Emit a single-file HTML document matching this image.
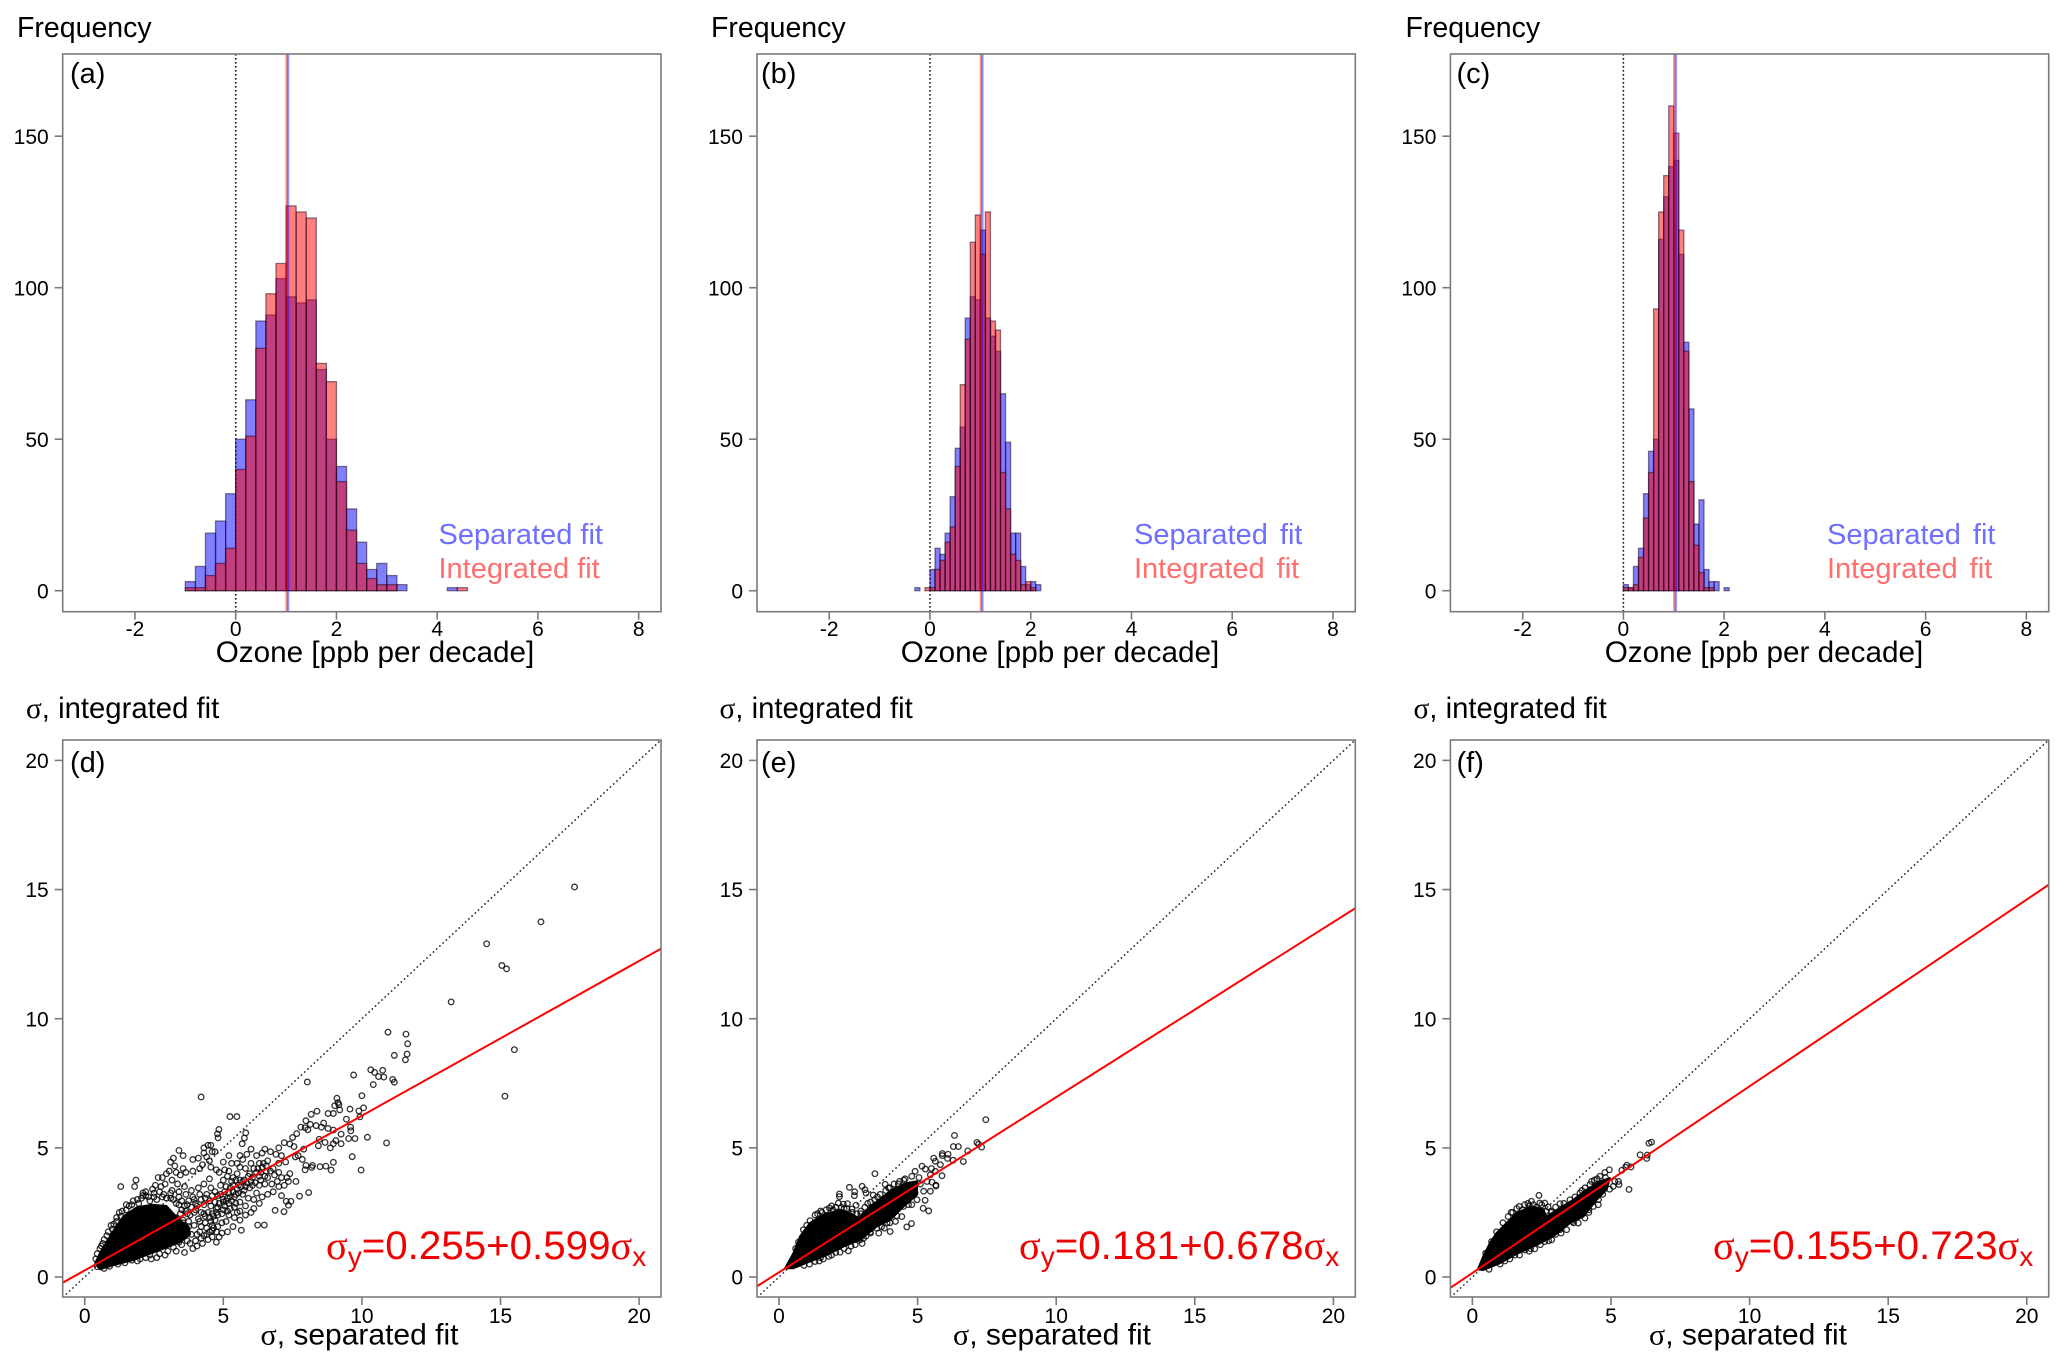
<!DOCTYPE html>
<html lang="en">
<head>
<meta charset="utf-8">
<title>Ozone trend histograms and sigma scatter plots</title>
<style>
html,body{margin:0;padding:0;background:#fff}
svg{display:block}
text{font-family:"Liberation Sans",sans-serif;fill:#000}
.title{font-size:28.5px}
.stitle{font-size:29.3px}
.xtitle{font-size:29.7px;text-anchor:middle}
.sxtitle{font-size:30px;text-anchor:middle}
.tag{font-size:29px}
.sep{font-size:29px;fill:#6f6fff}
.int{font-size:29px;fill:#ff6f6f}
.eq{font-size:40.3px;fill:#f00000}
.sig{font-family:"Liberation Serif",serif}
.tick{font-size:21px}
</style>
</head>
<body>
<svg id="figure" width="2067" height="1368" viewBox="0 0 2067 1368" xmlns="http://www.w3.org/2000/svg">
<rect width="2067" height="1368" fill="#fff"/>
<g id="plots"></g>

<text class="title" x="17" y="37">Frequency</text>
<text class="title" x="711" y="37">Frequency</text>
<text class="title" x="1405.5" y="37">Frequency</text>
<text class="tag" x="70" y="83">(a)</text>
<text class="tag" x="761" y="83">(b)</text>
<text class="tag" x="1456.5" y="83">(c)</text>
<text class="xtitle" x="375" y="662">Ozone [ppb per decade]</text>
<text class="xtitle" x="1060" y="662">Ozone [ppb per decade]</text>
<text class="xtitle" x="1764" y="662">Ozone [ppb per decade]</text>
<text class="sep" x="438.5" y="544">Separated fit</text>
<text class="int" x="438.5" y="578">Integrated fit</text>
<text class="sep" x="1134" y="544" word-spacing="4">Separated fit</text>
<text class="int" x="1134" y="578" word-spacing="4">Integrated fit</text>
<text class="sep" x="1827" y="544" word-spacing="4">Separated fit</text>
<text class="int" x="1827" y="578" word-spacing="4">Integrated fit</text>

<text class="stitle" x="26" y="718"><tspan class="sig">σ</tspan>, integrated fit</text>
<text class="stitle" x="719.5" y="718"><tspan class="sig">σ</tspan>, integrated fit</text>
<text class="stitle" x="1413.5" y="718"><tspan class="sig">σ</tspan>, integrated fit</text>
<text class="tag" x="70" y="772">(d)</text>
<text class="tag" x="761" y="772">(e)</text>
<text class="tag" x="1456.5" y="772">(f)</text>
<text class="sxtitle" x="359.5" y="1344.5"><tspan class="sig">σ</tspan>, separated fit</text>
<text class="sxtitle" x="1052" y="1344.5"><tspan class="sig">σ</tspan>, separated fit</text>
<text class="sxtitle" x="1748" y="1344.5"><tspan class="sig">σ</tspan>, separated fit</text>
<text class="eq" x="326" y="1259"><tspan class="sig">σ</tspan><tspan font-size="28" dy="7">y</tspan><tspan dy="-7">=0.255+0.599</tspan><tspan class="sig">σ</tspan><tspan font-size="28" dy="7">x</tspan></text>
<text class="eq" x="1019" y="1259"><tspan class="sig">σ</tspan><tspan font-size="28" dy="7">y</tspan><tspan dy="-7">=0.181+0.678</tspan><tspan class="sig">σ</tspan><tspan font-size="28" dy="7">x</tspan></text>
<text class="eq" x="1713" y="1259"><tspan class="sig">σ</tspan><tspan font-size="28" dy="7">y</tspan><tspan dy="-7">=0.155+0.723</tspan><tspan class="sig">σ</tspan><tspan font-size="28" dy="7">x</tspan></text>
</svg>

<script>
// ---- histogram data ----
const histXTicks = [-2, 0, 2, 4, 6, 8];
const histYTicks = [0, 50, 100, 150];
const binStartA = -1;
const binWidthA = 0.2;
const separatedA = [3,8,19,23,32,50,63,89,91,103,97,95,96,73,50,41,27,16,7,9,5,2,0,0,0,0,1,0];
const integratedA = [1,1,5,9,14,40,51,80,98,108,127,125,123,75,69,36,20,9,4,2,2,0,0,0,0,0,0,1];
const meanSepA = 1.04;
const meanIntA = 1.01;
const binStartB = -0.3;
const binWidthB = 0.1;
const separatedB = [1,0,0,7,14,12,19,31,47,54,90,97,96,119,90,84,79,65,49,19,19,8,2,3,2];
const integratedB = [0,0,1,1,7,10,16,21,41,68,83,115,124,111,125,89,86,39,27,12,10,2,3,1,0];
const meanSepB = 1.04;
const meanIntB = 1.01;
const binStartC = 0;
const binWidthC = 0.1;
const separatedC = [2,1,8,14,32,46,50,116,130,140,142,111,82,60,22,30,7,3,3,0,1];
const integratedC = [1,1,2,11,24,39,93,125,137,160,151,119,79,36,15,6,1,1,0,0,0];
const meanSepC = 1.04;
const meanIntC = 1.01;

// ---- scatter data ----
const sigmaTicks = [0, 5, 10, 15, 20];
const fitD = [0.255, 0.599];
const fitE = [0.181, 0.678];
const fitF = [0.155, 0.723];
// overplotted solid-black core of each cloud, outline in sigma units
const coreD = [[.38,.53],[.55,.92],[.8,1.37],[1.1,1.9],[1.4,2.35],[1.88,2.7],[2.42,2.8],[2.95,2.75],[3.2,2.45],[3.5,2.15],[3.75,1.95],[3.8,1.65],[3.5,1.4],[3.1,1.2],[2.48,.95],[1.76,.66],[1.04,.46],[.55,.3]];
const coreE = [[.22,.34],[.52,.92],[.76,1.57],[1.12,2.09],[1.6,2.41],[2.2,2.6],[2.57,2.47],[2.87,2.28],[3.29,2.73],[3.77,3.12],[4.13,3.41],[4.61,3.64],[4.98,3.7],[4.98,3.19],[4.49,2.73],[4.01,2.21],[3.53,1.96],[2.93,1.44],[2.33,1.18],[1.72,.85],[1.12,.6],[.52,.34]];
const coreF = [[.2,.3],[.39,.79],[.63,1.31],[.87,1.7],[1.17,2.02],[1.59,2.47],[2.13,2.73],[2.55,2.63],[2.67,2.34],[3.16,2.67],[3.64,2.99],[4.12,3.38],[4.6,3.7],[4.96,3.83],[4.84,3.38],[4.48,2.99],[4,2.34],[3.52,2.09],[2.92,1.57],[2.31,1.24],[1.59,.89],[.99,.53],[.39,.27]];
const pointsD = [[17.67,15.1],[16.46,13.75],[14.5,12.9],[15.05,12.06],[15.22,11.93],[13.22,10.65],[15.5,8.8],[15.16,7],[10.94,9.48],[11.59,9.4],[11.65,9.03],[11.63,8.63],[11.57,8.41],[11.17,8.58],[10.32,8.02],[10.46,7.92],[10.75,8],[10.6,7.76],[10.79,7.74],[11.11,7.65],[11.17,7.54],[10.41,7.45],[9.7,7.82],[8.03,7.55],[10,7.02],[9.1,6.92],[9.14,6.75],[9.17,6.67],[9.02,6.63],[9.2,6.47],[8.78,6.33],[8.97,6.33],[9.57,6.5],[9.89,6.43],[10.06,6.55],[9.93,6.2],[9.44,6.11],[8.38,6.42],[8.17,6.3],[7.98,6.05],[8.14,5.91],[8.35,5.86],[8.62,5.96],[8.54,5.8],[8.78,5.75],[8.97,5.69],[9.59,5.8],[9.6,5.66],[9.25,5.53],[9.52,5.36],[9.75,5.36],[10.2,5.41],[10.89,5.19],[9.25,5.16],[9.06,5.28],[8.97,5.16],[8.86,5],[8.67,5.21],[8.43,5.08],[8.46,5.33],[9.65,4.66],[8.97,4.44],[8.7,4.29],[8.49,4.27],[8.89,4.14],[9.97,4.14],[8.22,4.32],[8.19,4.24],[7.98,4.32],[7.95,4.15],[8.08,3.27],[7.62,3.7],[7.75,3.13],[7.44,2.93],[7.27,2.93],[7.35,2.78],[7.19,2.53],[6.87,2.58],[6.48,2.01],[6.24,2.01],[5.65,1.81],
[4.2,6.97],[5.24,6.21],[5.49,6.21],[4.84,5.71],[4.79,5.54],[4.81,5.39],[5.81,5.58],[5.76,5.38],[5.68,5.16],
[7,5],[7.2,5.2],[7.4,5.15],[7.5,5.4],[7.65,5.55],[7.8,5.8],[7.95,5.78],[8.05,5.7],[7.55,5.05],[7.7,4.7],[7.9,4.95],[7.85,4.55],[7.6,4.65],[7.25,4.45],[7.4,4],[7.1,4.7],[7,4.4],[6.9,4.75],[6.7,4.85],[6.5,4.95],[6.4,4.8],[6.2,4.7],[6.3,4.4],[6.6,4.5],[6.8,4.2],[7,4.05],[7.1,3.85],[7.3,3.85],[7.35,3.7],[7.2,3.55],[7,3.5],[6.8,3.3],[7.1,3.15],[6.6,3.2],[6.5,3.6],[6.3,3.55],[6.5,3.9],[6.3,3.9],[6.1,4.2],[6,4.4],[5.8,4.2],[5.6,4.25],[5.9,3.9],[5.7,3.7],[5.5,4],[5.3,3.7],[5.1,3.5],[5,4.45],[5.3,4.4],[5.2,4.7],[5.6,4.7],[5.7,4.55],[6,4.95],[5.85,4.75],[6.05,3.55],[6.2,3.25],[6.1,3],[5.9,3.05],[5.7,3.2],[5.5,3.4],[5.4,3.1],[5.2,3.25],[5,3],[4.8,3.15],[5.6,2.9],[5.8,2.75],[6.1,2.65],[6.3,2.85],[6.4,3.1],[6,2.5],[5.8,2.4],[5.6,2.55],[5.4,2.7],[5.2,2.85],[5,2.6],[4.8,2.4],[4.95,2.1],[5.1,2.15],[5.2,2.4],[5.4,2.3],[5.6,2.2],[5.35,1.95],[5.15,1.75],[4.95,1.7],[4.75,1.75],[4.65,1.9],
[3.4,4.9],[3.2,4.6],[3.1,4.45],[3.25,4.3],[3.55,4.7],[3.9,4.55],[4.1,4.6],[4.3,5],[4.45,5.1],[4.55,5.1],[4.6,4.85],[4.7,4.85],[4.3,4.8],[4.4,4.65],[4.5,4.5],[4.25,4.35],[4.15,4.2],[3.9,4.1],[3.65,4.05],[3.45,3.95],[3.55,4.2],[3.3,4.05],[3.05,4.1],[2.95,4],[2.8,3.85],[2.65,3.85],[1.3,3.5],[1.85,3.75],[1.8,3.5],[2.2,3.3],[2.1,3.25],[2.45,3.4],[2.55,3.55],[2.75,3.5],[2.9,3.6],[3.15,3.75],[3.35,3.6],[3.6,3.5],[3.85,3.35],[4.1,3.45],[4.3,3.6],[4.5,3.8],[4.55,3.45],[4.7,3.3],[4.9,3.55],[5,3.75],[4.75,4.15],[4.55,4.25],[4.85,4.05],[4.6,3.15],[4.4,3.2],[4.15,3.2],[3.9,3.1],[3.65,3.2],[3.4,3.3],[3.15,3.35],
[3.3,1],[3.6,.95],[3.9,1.1],[4.05,1.2],[4.25,1.3],[4.45,1.45],[4.6,1.55],[4.75,1.35],[4.85,1.55],[4.3,1.6],[4.5,1.75],[4.15,1.75],[4.7,2.2],[4.5,2.3],[4.3,2.45],[4,2.6],[3.7,2.45],[3.5,2.6],[3.4,2.8],[3.7,2.8],[4,2.85],[4.3,2.8],[4.55,2.75],[4.75,2.65],[3.8,1.3],[3.5,1.25],[3.2,1.15],[2.9,.85],[2.6,.75],[2.4,.7],[2.2,.75],[1.9,.62],[1.7,.65],
[.8,1.6],[1,1.85],[1.15,2.15],[1.3,2.35],[1.35,2.55],[1.5,2.8],[1.7,2.8],[1.9,3],[2.1,3.15],[2.3,3.1],[2.5,3.1],[2.8,3.1],[3.1,3.05],[.65,1.3],[.55,1.1],
[4.6,2.45],[4.8,2.7],[5,2.9],[5.15,3.05],[5.35,3.3],[5.55,3.55],[5.75,3.75],[5.95,4],[4.7,2.9],[4.9,3.2],[5.1,2.95],[5.25,3.45],[5.45,3.2],[5.6,3.75],[5.8,3.5],[6,3.7],[6.2,4.05],[6.4,4.25],[6.55,4.1],[6.35,3.75],
[1.5,2.6],[1.6,2.75],[1.75,2.95],[1.95,2.85],[2.05,3.05],[2.2,3.15],[2.35,2.95],[2.5,3.25],[2.6,3],[2.7,3.3],[2.85,3.2],[2.95,3.05],[3.1,3.25],[3.2,3],[3.3,2.85],[3.4,3.1],[3.5,2.95],[3.6,2.75],[3.75,2.95],[3.85,2.7],[3.95,3],[4.05,2.75],[4.2,3],[4.35,3.05],[4.5,2.95],
[3.3,2.3],[3.45,2.45],[3.55,2.2],[3.65,2.55],[3.8,2.4],[3.95,2.5],[4.1,2.25],[4.2,2.5],[4.35,2.35],[4.45,2.5],[4.55,2.15],[4.65,2.35],[4.75,2.5],[4.85,2.85],[4.95,2.45],[5.05,2.75],[5.15,2.55],[5.25,2.65],[5.3,2.95],[5.45,2.85],[5.5,2.5],
[3.4,1.35],[3.7,1.4],[4,1.4],[4.2,1.5],[4.4,1.65],[4.6,1.8],[4.8,1.95],[4.6,2],[4.4,1.9],[4.2,1.95],[3.3,1.45],[3.6,1.6],[3.85,1.65],[4.05,1.65],[3.3,1.75],[3.5,1.9],[3.75,1.95],[3.95,2],[4.15,2.15],[4.35,2.1],[3.35,2.05],[3.55,2.1],[3.75,2.15],[2.7,.9],[3,1],[2.35,.85],[2,.7],[1.45,.55],[1.2,.5],[.9,.42],[.7,.33],[.45,.4],
[5.05,3.3],[5.25,3.1],[5.35,3.55],[5.55,3.25],[5.65,3.5],[5.75,3.35],[5.85,3.65],[5.95,3.45],[6.05,3.85],[6.15,3.65],[6.25,4.2],[6.35,4.05],[6.45,4.4],[6.55,4.3],[6.6,3.85],[6.7,4.1],[6.75,3.6],[6.85,3.95],[6.95,3.7],[5.35,3.85],[5.15,3.9],[5.45,3.75],[5.2,4.1],[5.5,4.4],[5.05,4.15],
[.4,.7],[.45,.9],[.6,1.2],[.7,1.45],[.85,1.75],[.95,2],[1.05,2.05],[1.15,2.3],[1.25,2.5]];
const pointsE = [[7.46,6.09],[6.33,5.48],[6.29,5.05],[6.47,5.05],[6.81,4.88],[7.14,5.21],[7.2,5.14],[7.31,5.03],[6.65,4.47],[5.89,4.78],[5.89,4.7],[6.1,4.75],[6.08,4.59],[6.28,4.52],[5.58,4.6],[5.64,4.48],[5.88,3.92],[5.66,3.52],[5.27,2.97],[5.2,2.66],[5.4,2.56],[4.78,2.07],[4.61,1.94],[4.01,1.76],[3.46,4],[3.83,3.59],[3,3.51],[2.54,3.47],[3.1,3.38],[2.73,3.3],[2.72,3.15],[3.14,3.25],[3.4,3.17],[2.18,3.21],[2.18,3.11],[2.78,2.78],[2.47,2.84],[2.32,2.82],[2.14,2.86],[2.63,2.63],[1.82,2.67],[1.39,2.45],[1.12,2.18],[.88,1.83],[1.45,.62],[2.5,1.01],[2.2,.96],[2.93,1.44],[3.14,1.59],[3.53,1.89],[3.8,1.89],[4.2,2.15],[4.43,2.34],[4.79,2.8],[4.98,2.99],[5.22,3.32],[5.46,3.32],[5.66,3.56],[5.34,3.7],[5.52,3.67],[5.46,3.96],[5.16,4.29],[4.91,4.09],[5.28,4.18],[5.64,4.09],[5.82,4.35],[4.55,3.8],[4.79,3.9],[4.61,3.51],[4.91,3.25],[4.67,2.8],[4.49,2.73],[4.25,2.37],[5.1,3.6],[5.05,3.85],[4.7,3.3],[4.3,2.9],[3.9,2.1],[3.6,1.7],[3.3,1.7],[3,1.3],[2.6,1.2],[1.9,.85],[1.6,.7],[1.1,.5],[.7,1.35],[.6,1.1],[1,2],[1.55,2.5],[1.95,2.6],[2.35,2.65],[2.95,2.45],[3.2,2.85],[3.55,3.1],[4,3.45],[4.3,3.6],[5.5,4.2],
[1.3,2.4],[1.5,2.55],[1.7,2.6],[1.9,2.75],[2.05,2.7],[2.25,2.7],[2.45,2.65],[2.65,2.5],[2.8,2.45],[2.95,2.55],[3.1,2.7],[3.3,2.9],[3.45,3],[3.65,3.2],[3.85,3.35],[3.95,3.45],[4.15,3.6],[4.35,3.7],[4.5,3.75],[.9,.45],[1.3,.6],[1.5,.75],[1.8,.8],[2.05,.95],[2.35,1.1],[2.75,1.25],[3.05,1.5],[3.3,1.75],[3.7,1.95],[4,2.1]];
const pointsF = [[6.46,5.22],[6.37,5.18],[6.05,4.73],[6.31,4.72],[6.29,4.59],[5.65,3.39],[5.57,4.33],[5.72,4.26],[5.39,4.13],[5.53,4.25],[4.94,4.15],[4.78,4.05],[4.6,3.9],[5.14,3.7],[5.27,3.7],[5.29,3.58],[5.08,3.51],[4.54,2.8],[4.36,2.73],[4.06,2.28],[3.82,2.09],[3.4,1.83],[3.16,1.83],[2.86,1.44],[2.61,1.37],[2.25,1.09],[1.53,.85],[1.17,.62],[2.4,3.16],[2.13,2.93],[2.43,2.86],[2.61,2.86],[2.73,2.71],[3.16,2.84],[1.89,2.8],[1.69,2.73],[1.29,2.34],[.87,1.75],[.69,1.37],[.48,.92],[3.52,2.99],[3.88,3.25],[4.06,3.45],[4.24,3.58],[2.05,2.75],[2.3,2.7],[1.45,2.5],[1.1,2.1],[2.85,2.5],[3,1.65],[3.6,2.15],[4.2,2.6],[4.7,3.2],[4.95,3.4],[4.4,3.75],[4.8,3.85],[1.9,1.05],[2.1,1.1],
[1.4,2.5],[1.6,2.65],[1.8,2.6],[2,2.85],[2.2,2.8],[2.5,2.8],[2.65,2.55],[2.85,2.55],[3,2.7],[3.3,2.85],[3.7,3.1],[3.95,3.35],[4.3,3.7],[4.5,3.8],[.6,.3],[1,.5],[1.35,.7],[1.7,.85],[2.05,1],[2.45,1.25],[2.75,1.4],[3.2,1.7],[3.65,2.1],[4.2,2.5],[4.55,3]];

// ---- layout ----
const panelOffsets = [0, 694.3, 1387.7];
const frameLeft = 62.7, frameRight = 661;
const histTop = 54, histBottom = 611.7;
const histX0 = 235.7, histXUnit = 50.37, histY0 = 590.7, histYUnit = 3.03;
const scatTop = 740, scatBottom = 1297;
const scatX0 = 84.7, scatXUnit = 27.72, scatY0 = 1277, scatYUnit = 25.83;
const plots = document.getElementById('plots');
const NS = 'http://www.w3.org/2000/svg';

function make(tag, attrs, parent) {
  const el = document.createElementNS(NS, tag);
  for (const k in attrs) el.setAttribute(k, attrs[k]);
  parent.appendChild(el);
  return el;
}

function drawAxes(g, off, top, bottom, xTicks, yTicks, xFn, yFn, xLabelY) {
  const frame = make('rect', {x: frameLeft + off, y: top, width: frameRight - frameLeft, height: bottom - top, fill: 'none', stroke: '#7a7a7a', 'stroke-width': 1.6}, g);
  
  
  xTicks.forEach(function (v) {
    const t = make('line', {x1: xFn(v), x2: xFn(v), y1: bottom, y2: bottom + 8, stroke: '#7a7a7a', 'stroke-width': 1.6}, g);
    
    
    const l = make('text', {x: xFn(v), y: xLabelY, 'text-anchor': 'middle', class: 'tick'}, g);
    l.textContent = String(v);
    
    
  });
  yTicks.forEach(function (v) {
    const t = make('line', {x1: frameLeft + off - 8, x2: frameLeft + off, y1: yFn(v), y2: yFn(v), stroke: '#7a7a7a', 'stroke-width': 1.6}, g);
    
    
    const l = make('text', {x: frameLeft + off - 14, y: yFn(v) + 7.6, 'text-anchor': 'end', class: 'tick'}, g);
    l.textContent = String(v);
    
    
  });
}

function drawHist(index, start, width, sep, integ, meanSep, meanInt) {
  const off = panelOffsets[index];
  const xFn = function (v) { return histX0 + off + histXUnit * v; };
  const yFn = function (v) { return histY0 - histYUnit * v; };
  const g = make('g', {}, plots);
  
  
  const zero = make('line', {x1: xFn(0), x2: xFn(0), y1: histTop, y2: histBottom, stroke: '#111', 'stroke-width': 1.5, 'stroke-dasharray': '1.6 2.4'}, g);
  
  
  [[sep, 'rgba(0,0,255,0.5)'], [integ, 'rgba(255,0,0,0.5)']].forEach(function (s) {
    s[0].forEach(function (v, i) {
      const left = xFn(start + i * width);
      const right = xFn(start + (i + 1) * width);
      const b = make('rect', {x: left, y: yFn(v), width: right - left, height: yFn(0) - yFn(v), fill: s[1], stroke: 'rgba(20,0,30,0.5)', 'stroke-width': 1.3}, g);
      
      
    });
  });
  const mi = make('line', {x1: xFn(meanInt), x2: xFn(meanInt), y1: histTop, y2: histBottom, stroke: 'rgba(255,0,0,0.42)', 'stroke-width': 2.4}, g);
  
  
  const ms = make('line', {x1: xFn(meanSep), x2: xFn(meanSep), y1: histTop, y2: histBottom, stroke: 'rgba(0,0,255,0.42)', 'stroke-width': 2.4}, g);
  
  
  drawAxes(g, off, histTop, histBottom, histXTicks, histYTicks, xFn, yFn, 636);
}

function drawScatter(index, core, points, fit) {
  const off = panelOffsets[index];
  const xFn = function (v) { return scatX0 + off + scatXUnit * v; };
  const yFn = function (v) { return scatY0 - scatYUnit * v; };
  const xMin = (frameLeft - scatX0) / scatXUnit, xMax = (frameRight - scatX0) / scatXUnit;
  const clipId = 'clip-scatter-' + index;
  const cp = make('clipPath', {id: clipId}, plots);
  make('rect', {x: frameLeft + off, y: scatTop, width: frameRight - frameLeft, height: scatBottom - scatTop}, cp);
  const g = make('g', {}, plots);
  
  
  const inner = make('g', {'clip-path': 'url(#' + clipId + ')'}, g);
  const diag = make('line', {x1: xFn(xMin), y1: yFn(xMin), x2: xFn(xMax), y2: yFn(xMax), stroke: '#222', 'stroke-width': 1.5, 'stroke-dasharray': '1.6 2.8'}, inner);
  
  
  const cloud = make('polygon', {points: core.map(function (p) { return xFn(p[0]).toFixed(1) + ',' + yFn(p[1]).toFixed(1); }).join(' '), fill: '#000', stroke: '#000', 'stroke-width': 2, 'stroke-linejoin': 'round'}, inner);
  
  
  points.forEach(function (p) {
    const c = make('circle', {cx: xFn(p[0]), cy: yFn(p[1]), r: 2.8, fill: 'none', stroke: 'rgba(0,0,0,0.8)', 'stroke-width': 1.3}, inner);
    
    
  });
  const fitLine = make('line', {x1: xFn(xMin), y1: yFn(fit[0] + fit[1] * xMin), x2: xFn(xMax), y2: yFn(fit[0] + fit[1] * xMax), stroke: '#f00', 'stroke-width': 2}, inner);
  
  
  drawAxes(g, off, scatTop, scatBottom, sigmaTicks, sigmaTicks, xFn, yFn, 1323);
}

drawHist(0, binStartA, binWidthA, separatedA, integratedA, meanSepA, meanIntA);
drawHist(1, binStartB, binWidthB, separatedB, integratedB, meanSepB, meanIntB);
drawHist(2, binStartC, binWidthC, separatedC, integratedC, meanSepC, meanIntC);
drawScatter(0, coreD, pointsD, fitD);
drawScatter(1, coreE, pointsE, fitE);
drawScatter(2, coreF, pointsF, fitF);
</script>
</body>
</html>
